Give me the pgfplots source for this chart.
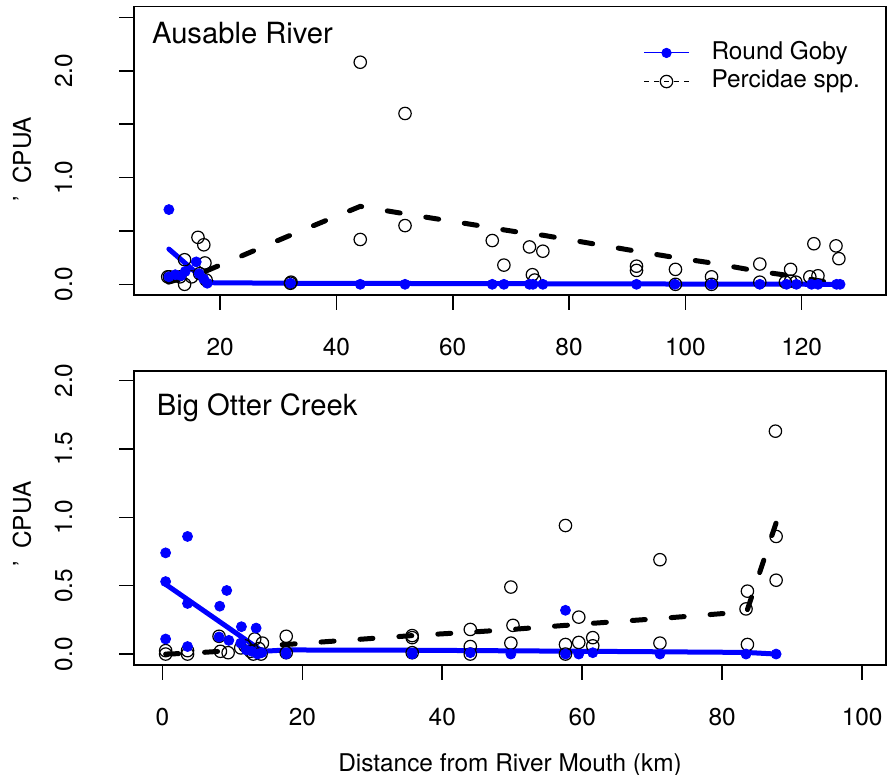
\documentclass[border=0pt]{standalone}
\usepackage{fontspec}
\setmainfont{TeX Gyre Heros}
\usepackage{pgfplots}
\pgfplotsset{compat=1.18}

\newcommand{\lab}{\fontsize{12.2}{14.6}\selectfont}
\newcommand{\ttl}{\fontsize{14.6}{17.5}\selectfont}

\pgfplotsset{
  rpanel/.style={
    scale only axis, width=376pt,
    axis line style={line width=0.8pt},
    every tick/.style={black, line width=0.8pt},
    tick align=outside, major tick length=7.5pt,
    xtick pos=left, ytick pos=left,
    tick label style={font=\lab, /pgf/number format/assume math mode=true},
    yticklabel style={xshift=-23pt, rotate=90, anchor=south, inner sep=0pt},
    xticklabel style={yshift=-14pt, anchor=north, inner sep=0pt},
    ylabel style={font=\lab, anchor=south, inner sep=0pt},
  },
  goby/.style={only marks, mark=*, mark size=2.5pt, color=blue, mark options={draw=blue, fill=blue}, forget plot},
  perc/.style={only marks, mark=o, mark size=3.1pt, color=black, mark options={line width=0.6pt}, forget plot},
  gobyfit/.style={no marks, color=blue, line width=2.5pt, line join=round, line cap=round, forget plot},
  percfit/.style={no marks, color=black, line width=2.5pt, line cap=round, dash pattern=on 6.5pt off 13pt, forget plot},
}

\begin{document}
\begin{tikzpicture}
\useasboundingbox (0,0) rectangle (444pt,387.5pt);

% ---- Ausable River ----
\begin{axis}[rpanel,
    at={(67pt,240pt)}, anchor=south west, height=144.15pt,
    xmin=5.2, xmax=134.5, ymin=-0.1, ymax=2.6,
    xtick={20,40,60,80,100,120},
    ytick={0,0.5,1,1.5,2,2.5}, yticklabels={0.0,,1.0,,2.0,},
    ylabel={'\hspace{6pt}CPUA},
    ylabel style={at={(axis description cs:-0.136,0.472)}},
    legend cell align=left,
    legend image code/.code={\draw[mark repeat=2, mark phase=2, #1] plot coordinates {(0pt,0pt) (11.25pt,0pt) (22.5pt,0pt)};},
    legend style={draw=none, fill=none, at={(rel axis cs:0.677,0.79)}, anchor=west,
      inner sep=0pt, row sep=2.9pt,
      nodes={inner sep=0pt, font=\lab, text height=8.8pt, text depth=2.6pt},
      /tikz/every odd column/.append style={column sep=11pt}},
  ]
  \addlegendimage{blue, line width=0.5pt, mark=*, mark size=2.3pt, mark options={solid, fill=blue}}
  \addlegendentry{Round Goby}
  \addlegendimage{black, line width=0.5pt, dash pattern=on 2.5pt off 2.5pt, mark=o, mark size=3.1pt, mark options={solid, line width=0.6pt}}
  \addlegendentry{Percidae spp.}

  \addplot[perc] coordinates {
    (11.0,0.07) (11.3,0.07) (13.1,0.07) (13.9,0.0) (13.9,0.23) (15.1,0.07)
    (16.2,0.44) (16.5,0.10) (17.2,0.37) (17.4,0.20) (17.6,0.04)
    (32.1,0.01) (32.2,0.02) (44.1,2.08) (44.1,0.42) (51.8,1.60) (51.8,0.55)
    (66.8,0.41) (68.8,0.18) (73.2,0.35) (73.7,0.09) (74.1,0.04) (75.5,0.31)
    (91.6,0.17) (91.6,0.13) (98.3,0.14) (98.3,0.0) (104.5,0.07) (104.5,0.0)
    (112.8,0.19) (112.8,0.02) (117.2,0.02) (118.1,0.14) (118.1,0.03) (119.0,0.02)
    (121.4,0.07) (122.1,0.38) (122.8,0.08) (125.9,0.36) (126.4,0.24)
  };
  \addplot[goby] coordinates {
    (11.2,0.70) (11.2,0.07) (12.3,0.09) (13.3,0.08) (14.0,0.12) (15.9,0.21)
    (16.4,0.10) (17.2,0.05) (17.8,0.01) (32.1,0.01) (44.1,0.0) (51.8,0.0)
    (66.8,0.0) (68.8,0.0) (73.2,0.0) (73.8,0.0) (75.5,0.0) (91.6,0.0)
    (98.2,0.0) (104.5,0.0) (112.8,0.0) (117.4,0.0) (119.1,0.0) (121.7,0.0)
    (122.8,0.0) (126.0,0.0) (126.6,0.0)
  };
  \addplot[percfit] coordinates {
    (11.1,0.02) (13.1,0.05) (15.1,0.08) (16.2,0.10) (17.4,0.12) (32.1,0.46)
    (44.1,0.73) (51.8,0.66) (66.8,0.53) (68.8,0.51) (73.5,0.47) (75.5,0.46)
    (91.6,0.31) (98.3,0.25) (104.5,0.20) (112.8,0.12) (118.1,0.08) (122.3,0.04)
    (126.6,0.0)
  };
  \addplot[gobyfit] coordinates {
    (11.2,0.33) (17.9,0.015) (32.1,0.01) (75.5,0.005) (126.6,0.0)
  };
  \node[anchor=base west, inner sep=0pt, font=\ttl] at (rel axis cs:0.0235,0.873) {Ausable River};
\end{axis}

% ---- Big Otter Creek ----
\begin{axis}[rpanel,
    at={(67pt,55pt)}, anchor=south west, height=147pt,
    xmin=-4.05, xmax=103.4, ymin=-0.08, ymax=2.07,
    xtick={0,20,40,60,80,100},
    ytick={0,0.5,1,1.5,2}, yticklabels={0.0,0.5,1.0,1.5,2.0},
    ylabel={'\hspace{6pt}CPUA},
    ylabel style={at={(axis description cs:-0.136,0.48)}},
    xlabel={Distance from River Mouth (km)},
    xlabel style={font=\lab, at={(axis description cs:0.5,0)}, anchor=base, inner sep=0pt, yshift=-53pt},
  ]
  \addplot[perc] coordinates {
    (0.47,0.0) (0.47,0.025) (3.6,0.0) (3.6,0.025) (8.1,0.13) (8.3,0.02)
    (9.4,0.01) (11.2,0.045) (11.8,0.06) (12.6,0.02) (13.2,0.11) (13.0,0.0)
    (13.8,0.04) (14.3,0.08) (14.1,0.0) (17.7,0.13) (17.7,0.01)
    (35.7,0.12) (35.7,0.135) (35.7,0.01) (44.0,0.18) (44.0,0.055) (44.0,0.0)
    (49.8,0.49) (50.1,0.21) (49.8,0.08) (57.6,0.94) (57.6,0.07) (57.6,0.0)
    (59.5,0.27) (59.5,0.085) (61.5,0.12) (61.5,0.06) (71.1,0.69) (71.1,0.08)
    (83.6,0.46) (83.4,0.33) (83.6,0.07) (87.6,1.63) (87.7,0.86) (87.7,0.54)
  };
  \addplot[goby] coordinates {
    (0.47,0.74) (0.47,0.53) (0.47,0.11) (3.6,0.86) (3.6,0.37) (3.6,0.055)
    (8.1,0.125) (8.2,0.35) (9.2,0.465) (9.5,0.10) (11.3,0.20) (13.4,0.19)
    (11.2,0.08) (12.0,0.03) (12.8,0.02) (13.6,0.0) (14.2,0.01) (17.7,0.0)
    (35.7,0.0) (44.0,0.01) (49.8,0.0) (57.6,0.32) (57.6,0.0) (59.5,0.0)
    (61.5,0.01) (71.1,0.0) (83.4,0.0) (87.7,0.0)
  };
  \addplot[percfit] coordinates {
    (0.47,0.0) (3.6,0.005) (8.2,0.02) (9.4,0.03) (11.2,0.045) (13.2,0.055)
    (14.3,0.06) (17.7,0.07) (35.7,0.135) (44.0,0.16) (49.9,0.18) (57.6,0.21)
    (59.5,0.215) (61.5,0.225) (71.1,0.26) (83.5,0.31) (87.7,0.96)
  };
  \addplot[gobyfit] coordinates {
    (0.47,0.51) (14.3,0.02) (17.7,0.03) (35.7,0.028) (61.5,0.02) (83.4,0.012) (87.7,0.0)
  };
  \node[anchor=base west, inner sep=0pt, font=\ttl] at (rel axis cs:0.03,0.85) {Big Otter Creek};
\end{axis}
\end{tikzpicture}
\end{document}
